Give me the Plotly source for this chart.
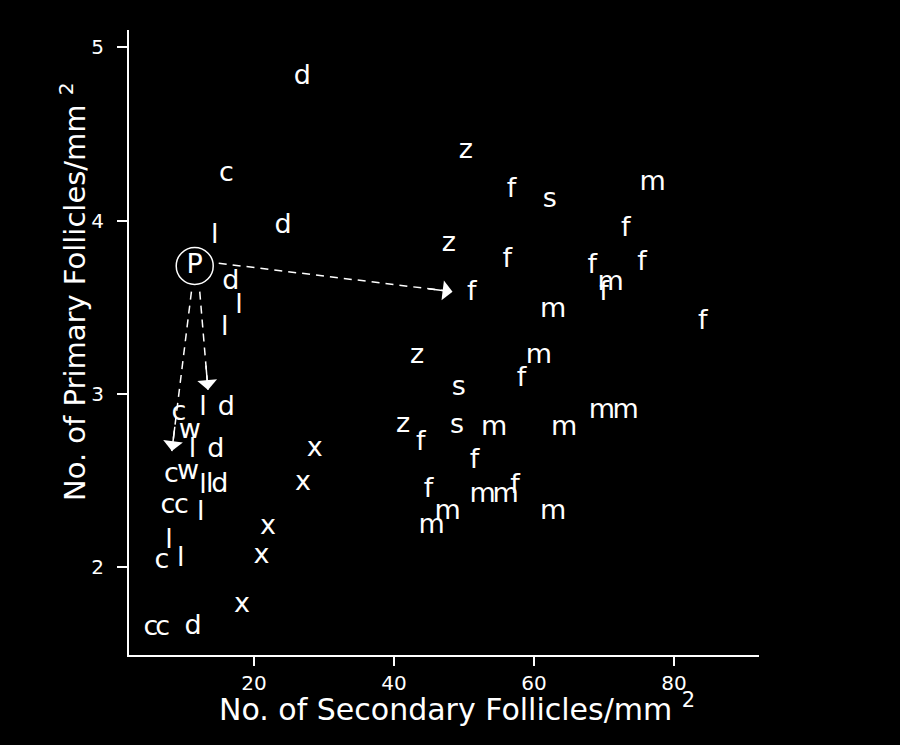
import plotly.graph_objects as go

# ---- data: (secondary follicles/mm2, primary follicles/mm2) per letter code ----
d_x = [26.9, 24.15, 16.67, 16.05, 14.52, 15.10, 11.28]
d_y = [4.83, 3.965, 3.647, 2.917, 2.676, 2.474, 1.653]

c_x = [16.05, 9.28, 8.19, 7.71, 9.62, 6.85, 5.25, 6.95]
c_y = [4.267, 2.888, 2.532, 2.353, 2.353, 2.032, 1.647, 1.647]

l_x = [14.38, 17.86, 15.81, 12.71, 11.19, 12.71, 13.67, 12.38, 7.85, 9.52]
l_y = [3.907, 3.503, 3.380, 2.917, 2.676, 2.465, 2.474, 2.311, 2.147, 2.046]

w_x = [10.81, 10.56]
w_y = [2.782, 2.545]

x_x = [28.68, 27.00, 22.00, 21.06, 18.28]
x_y = [2.680, 2.484, 2.230, 2.065, 1.782]

z_x = [50.26, 47.83, 43.30, 41.30]
z_y = [4.402, 3.865, 3.215, 2.821]

s_x = [62.27, 49.26, 49.02]
s_y = [4.119, 3.032, 2.816]

f_x = [56.80, 73.10, 56.17, 68.32, 75.43, 69.99, 51.12, 84.10, 58.23, 43.83, 51.51, 44.93, 57.27]
f_y = [4.177, 3.950, 3.769, 3.734, 3.754, 3.580, 3.580, 3.413, 3.084, 2.715, 2.609, 2.445, 2.465]

m_x = [76.95, 70.95, 62.74, 60.70, 69.70, 73.10, 54.31, 64.32, 52.65, 55.94, 47.65, 45.36, 62.74]
m_y = [4.215, 3.638, 3.480, 3.215, 2.901, 2.901, 2.802, 2.802, 2.417, 2.417, 2.314, 2.234, 2.314]

p_x = [11.52]
p_y = [3.738]

# dashed arrows from P: start -> end
arrow_x0 = [14.95, 11.05, 12.24]
arrow_y0 = [3.754, 3.590, 3.590]
arrow_x1 = [48.36, 8.25, 13.42]
arrow_y1 = [3.590, 2.670, 3.022]

x_ticks = [20, 40, 60, 80]
y_ticks = [2, 3, 4, 5]

groups = [("d", d_x, d_y), ("c", c_x, c_y), ("l", l_x, l_y), ("w", w_x, w_y),
          ("x", x_x, x_y), ("z", z_x, z_y), ("s", s_x, s_y), ("f", f_x, f_y),
          ("m", m_x, m_y)]

FONT = "DejaVu Sans"
fig = go.Figure()
for letter, xs, ys in groups:
    fig.add_trace(go.Scatter(
        x=xs, y=ys, mode="text", text=[letter] * len(xs),
        textposition="middle center",
        textfont=dict(family=FONT, size=27, color="white"),
        showlegend=False, hoverinfo="skip"))

fig.add_trace(go.Scatter(
    x=p_x, y=p_y, mode="markers+text", text=["P"],
    textposition="middle center",
    textfont=dict(family=FONT, size=27, color="white"),
    marker=dict(symbol="circle-open", size=37, color="white",
                line=dict(color="white", width=1.5)),
    showlegend=False, hoverinfo="skip"))

XR = [2.13, 92.15]
YR = [1.493, 5.10]
W, H = 900, 745
ML, MR, MT, MB = 129, 141, 30, 90
pw, ph = W - ML - MR, H - MT - MB
sx = pw / (XR[1] - XR[0])
sy = ph / (YR[1] - YR[0])

shapes = []
annotations = []
for x0, y0, x1, y1 in zip(arrow_x0, arrow_y0, arrow_x1, arrow_y1):
    shapes.append(dict(type="line", xref="x", yref="y", x0=x0, y0=y0, x1=x1, y1=y1,
                       line=dict(color="white", width=1.5, dash="8px,6px")))
    dxp = (x1 - x0) * sx
    dyp = (y1 - y0) * sy
    L = (dxp ** 2 + dyp ** 2) ** 0.5
    hl = 26.0
    annotations.append(dict(x=x1, y=y1, xref="x", yref="y",
                            ax=-dxp / L * hl, ay=dyp / L * hl,
                            axref="pixel", ayref="pixel",
                            text="", showarrow=True, arrowhead=1,
                            arrowsize=2.2, arrowwidth=1.5, arrowcolor="white"))

annotations.append(dict(text="No. of Secondary Follicles/mm <sup>2</sup>",
                        xref="paper", yref="paper", x=(457 - ML) / pw, y=(655 - 707) / ph,
                        xanchor="center", yanchor="middle", showarrow=False,
                        font=dict(family=FONT, size=30, color="white")))
annotations.append(dict(text="No. of Primary Follicles/mm <sup>2</sup>",
                        xref="paper", yref="paper", x=(73 - ML) / pw, y=(655 - 292) / ph,
                        xanchor="center", yanchor="middle", showarrow=False, textangle=-90,
                        font=dict(family=FONT, size=29, color="white")))

fig.update_layout(
    width=W, height=H,
    margin=dict(l=ML, r=MR, t=MT, b=MB),
    paper_bgcolor="black", plot_bgcolor="black",
    shapes=shapes, annotations=annotations,
    xaxis=dict(range=XR, tickvals=x_ticks, ticktext=[str(v) for v in x_ticks],
               showgrid=False, zeroline=False, showline=True, linecolor="white", linewidth=2,
               ticks="outside", ticklen=9, tickwidth=1.5, tickcolor="white",
               tickfont=dict(family=FONT, size=20, color="white")),
    yaxis=dict(range=YR, tickvals=y_ticks, ticktext=[str(v) for v in y_ticks],
               showgrid=False, zeroline=False, showline=True, linecolor="white", linewidth=2,
               ticks="outside", ticklen=10, tickwidth=1.5, tickcolor="white",
               ticklabelstandoff=9,
               tickfont=dict(family=FONT, size=20, color="white")),
)

fig.write_html("out.html")
